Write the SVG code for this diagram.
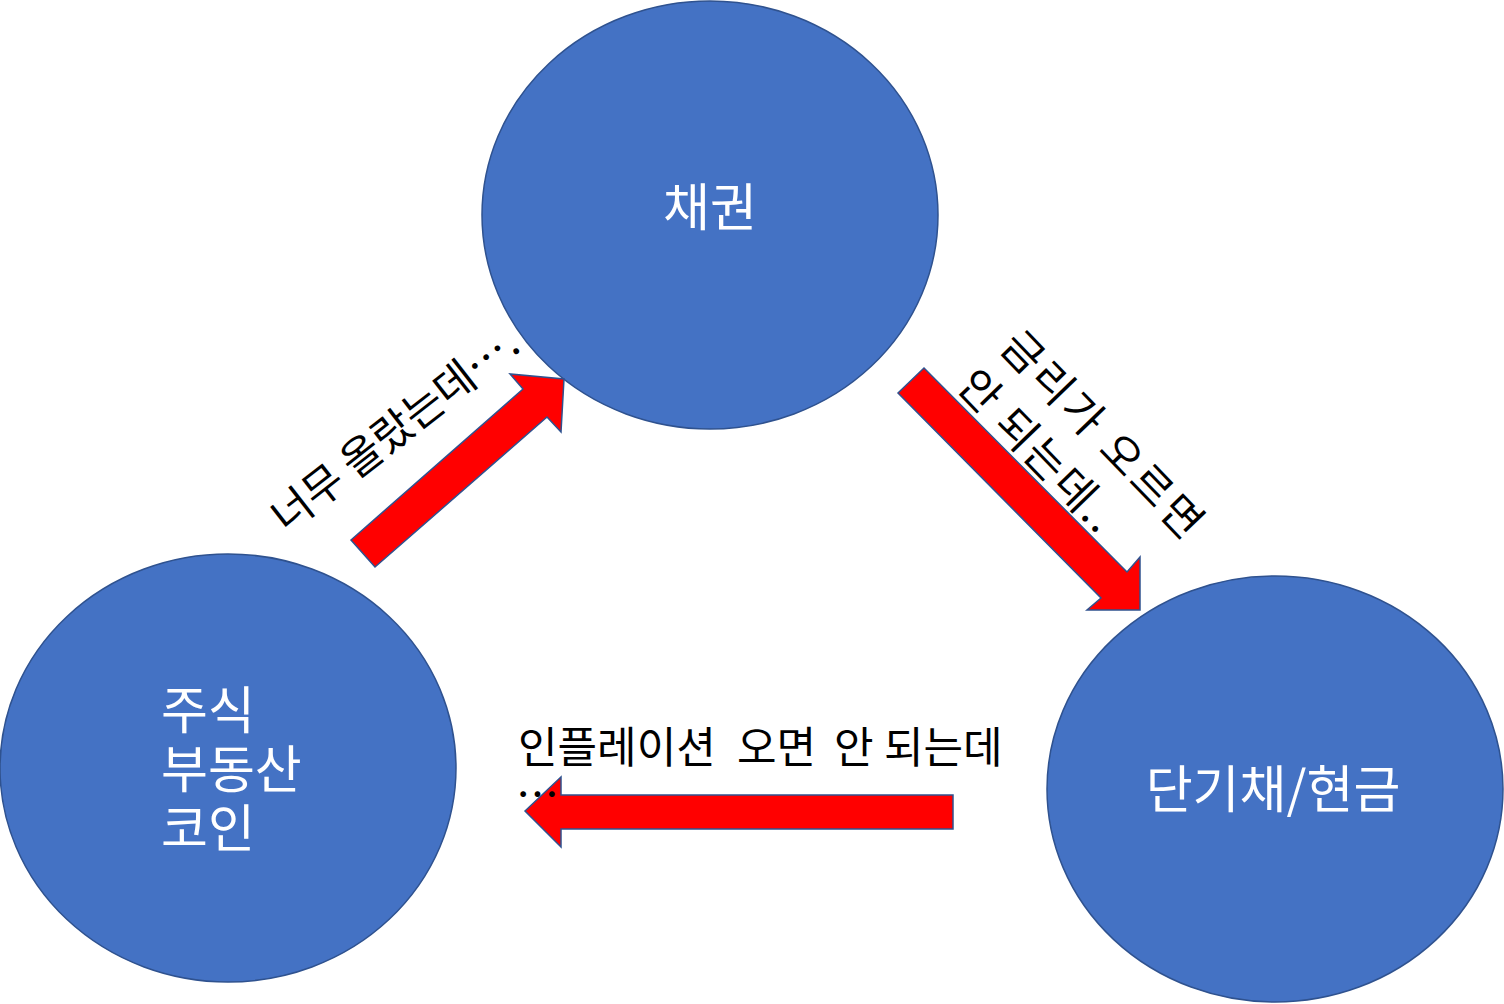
<svg xmlns="http://www.w3.org/2000/svg" width="1504" height="1004" viewBox="0 0 1504 1004">
<style>
.node{fill:#4472C4;stroke:#2F528F;stroke-width:1.5}
.ntext{fill:#FFFFFF;font-family:"Noto Sans CJK KR","Noto Sans",sans-serif;font-size:51px}
.arrow{fill:#FF0000;stroke:#2F528F;stroke-width:1.5;stroke-linejoin:miter}
.label{fill:#000000;font-family:"Noto Sans CJK KR","Noto Sans",sans-serif;font-size:43px}
</style>
<rect width="1504" height="1004" fill="#FFFFFF"/>
<g id="node-bond">
<ellipse class="node" cx="710" cy="215" rx="228" ry="214"/>
<text class="ntext" x="710" y="226" text-anchor="middle">채권</text>
</g>
<g id="node-stocks">
<ellipse class="node" cx="228" cy="768" rx="228" ry="214"/>
<text class="ntext" x="161" y="729">주식</text>
<text class="ntext" x="161" y="788">부동산</text>
<text class="ntext" x="161" y="847">코인</text>
</g>
<g id="node-cash">
<ellipse class="node" cx="1275" cy="789" rx="228" ry="213"/>
<text class="ntext" x="1273" y="808" text-anchor="middle">단기채/현금</text>
</g>
<g id="connectors">
<polygon class="arrow" points="351,540 523,389 510,374 564,379 561,432 547,417 375,567"/>
<polygon class="arrow" points="924,368 1127,572 1140,557 1140,610 1087,610 1101,598 898,393"/>
<polygon class="arrow" points="525,811 561,777 561,795 953,795 953,829 561,829 561,847"/>
<g transform="translate(395,430) rotate(-38)">
<text class="label" x="0" y="15" text-anchor="middle" textLength="300" lengthAdjust="spacing">너무 올랐는데….</text>
</g>
<g transform="translate(1009,338) rotate(46)">
<text class="label" x="0" y="15" textLength="268" lengthAdjust="spacing">금리가 오르면</text>
<text class="label" x="-2" y="73" textLength="205" lengthAdjust="spacing">안 되는데..</text>
</g>
<text class="label" y="763"><tspan x="518">인플레이션</tspan><tspan x="737">오면</tspan><tspan x="834">안</tspan><tspan x="884">되는데</tspan></text>
<text class="label" x="516" y="811">…</text>
</g>
</svg>
